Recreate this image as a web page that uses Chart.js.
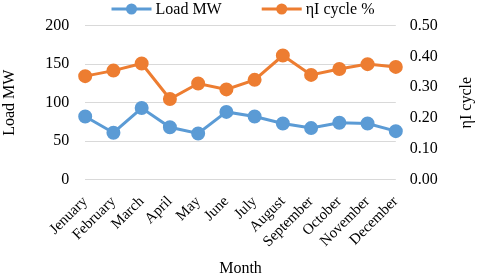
<!DOCTYPE html>
<html>
<head>
<meta charset="utf-8">
<script src="https://cdn.jsdelivr.net/npm/chart.js@4"></script>
<style>
  html, body { margin: 0; padding: 0; background: #fff; }
  #wrap { width: 480px; height: 279px; }
</style>
</head>
<body>
<div id="wrap"><canvas id="myChart"></canvas></div>
<script>
// months as printed in the source (typo kept)
var months = ['Jenuary', 'February', 'March', 'April', 'May', 'June', 'July',
    'August', 'September', 'October', 'November', 'December'];
var loadMW = [82, 61, 93, 68, 60, 88, 82, 73, 67, 74, 73, 63];
var cycleEff = [0.336, 0.354, 0.377, 0.262, 0.312, 0.293, 0.324, 0.403, 0.340, 0.359, 0.375, 0.366];
var leftTicks = [0, 50, 100, 150, 200];
var rightTicks = [0, 0.1, 0.2, 0.3, 0.4, 0.5];

var blue = '#5b9bd5';
var orange = '#ed7d31';
var font = 'Liberation Serif, Times New Roman, serif';
var fontSize = 16;

var whiteBg = {
    id: 'whiteBg',
    beforeDraw: function (chart) {
        var ctx = chart.ctx;
        ctx.save();
        ctx.fillStyle = '#fff';
        ctx.fillRect(0, 0, chart.width, chart.height);
        ctx.restore();
    }
};

// excel style legend: line with a dot, then the name, centred on top
var topLegend = {
    id: 'topLegend',
    afterDraw: function (chart) {
        var ctx = chart.ctx;
        var sets = chart.data.datasets;
        var markW = 40, textGap = 4, itemGap = 40, y = 9;
        ctx.save();
        ctx.font = fontSize + 'px ' + font;
        var total = 0;
        sets.forEach(function (ds, i) {
            total += markW + textGap + ctx.measureText(ds.label).width;
            if (i > 0) total += itemGap;
        });
        var x = (chart.width - total) / 2 + 3;
        sets.forEach(function (ds) {
            ctx.strokeStyle = ds.borderColor;
            ctx.fillStyle = ds.borderColor;
            ctx.lineWidth = 3;
            ctx.beginPath();
            ctx.moveTo(x, y);
            ctx.lineTo(x + markW, y);
            ctx.stroke();
            ctx.beginPath();
            ctx.arc(x + markW / 2, y, 5.5, 0, Math.PI * 2);
            ctx.fill();
            x += markW + textGap;
            ctx.fillStyle = '#000';
            ctx.textBaseline = 'middle';
            ctx.textAlign = 'left';
            ctx.fillText(ds.label, x, y + 1);
            x += ctx.measureText(ds.label).width + itemGap;
        });
        ctx.restore();
    }
};

// right axis title reads bottom to top like the left one
var rightTitle = {
    id: 'rightTitle',
    afterDraw: function (chart) {
        var sc = chart.scales.y1;
        var ctx = chart.ctx;
        ctx.save();
        ctx.translate(sc.right - 11, (sc.top + sc.bottom) / 2);
        ctx.rotate(-Math.PI / 2);
        ctx.font = fontSize + 'px ' + font;
        ctx.fillStyle = '#000';
        ctx.textAlign = 'center';
        ctx.textBaseline = 'middle';
        ctx.fillText('ηI cycle', 0, 0);
        ctx.restore();
    }
};

var ctx = document.getElementById('myChart').getContext('2d');
var chart = new Chart(ctx, {
    type: 'line',
    data: {
        labels: months,
        datasets: [{
            label: 'Load MW',
            data: loadMW,
            yAxisID: 'y',
            borderColor: blue,
            backgroundColor: blue,
            borderWidth: 3,
            pointRadius: 5.5,
            pointHoverRadius: 5.5,
            tension: 0
        }, {
            label: 'ηI cycle %',
            data: cycleEff,
            yAxisID: 'y1',
            borderColor: orange,
            backgroundColor: orange,
            borderWidth: 3,
            pointRadius: 5.5,
            pointHoverRadius: 5.5,
            tension: 0
        }]
    },
    options: {
        responsive: true,
        maintainAspectRatio: false,
        animation: false,
        layout: { padding: { left: 0, right: 2, top: 13, bottom: 1 } },
        plugins: {
            tooltip: { enabled: false },
            legend: { display: false }
        },
        scales: {
            x: {
                grid: { display: false },
                border: { display: false },
                ticks: {
                    color: '#000',
                    font: { family: font, size: 15 },
                    autoSkip: false,
                    maxRotation: 45,
                    minRotation: 45,
                    padding: 5
                },
                title: {
                    display: true,
                    text: 'Month',
                    color: '#000',
                    font: { family: font, size: fontSize },
                    padding: { top: 3, bottom: 0 }
                }
            },
            y: {
                position: 'left',
                min: leftTicks[0],
                max: leftTicks[leftTicks.length - 1],
                afterBuildTicks: function (axis) {
                    axis.ticks = leftTicks.map(function (v) { return { value: v }; });
                },
                grid: { color: '#d9d9d9', lineWidth: 1, drawTicks: false },
                border: { display: false },
                ticks: {
                    color: '#000',
                    font: { family: font, size: fontSize },
                    padding: 16
                },
                title: {
                    display: true,
                    text: 'Load MW',
                    color: '#000',
                    font: { family: font, size: fontSize },
                    padding: { top: 0, bottom: 10 }
                }
            },
            y1: {
                position: 'right',
                min: rightTicks[0],
                max: rightTicks[rightTicks.length - 1],
                afterBuildTicks: function (axis) {
                    axis.ticks = rightTicks.map(function (v) { return { value: v }; });
                },
                grid: { display: false, drawTicks: false },
                border: { display: false },
                ticks: {
                    color: '#000',
                    font: { family: font, size: fontSize },
                    padding: 14,
                    callback: function (v) { return Number(v).toFixed(2); }
                },
                title: {
                    // space only, drawn by rightTitle
                    display: true,
                    text: 'ηI cycle',
                    color: 'rgba(0,0,0,0)',
                    font: { family: font, size: fontSize },
                    padding: { top: 2, bottom: 5 }
                }
            }
        }
    },
    plugins: [whiteBg, topLegend, rightTitle]
});
</script>
</body>
</html>
